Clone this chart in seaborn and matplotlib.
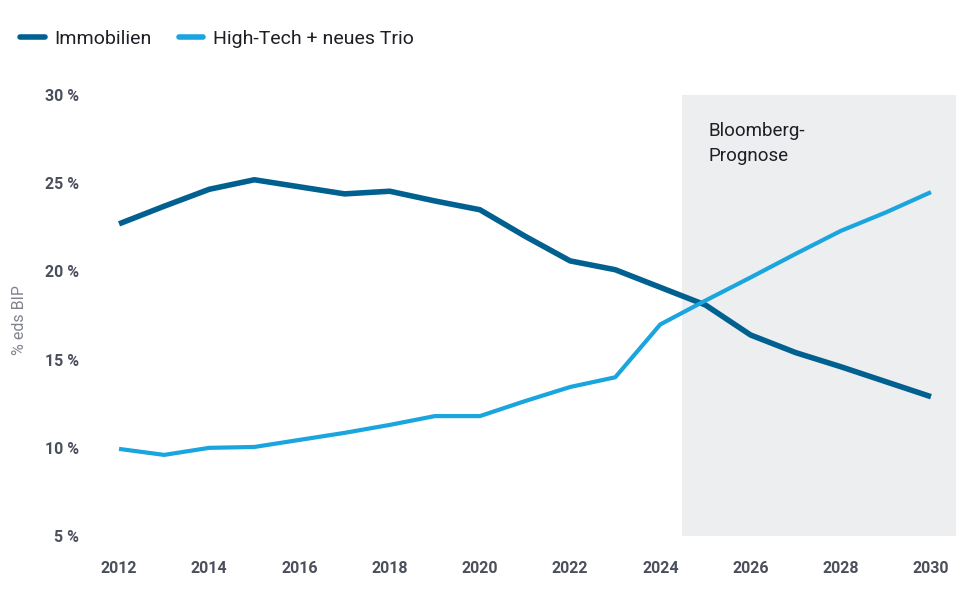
import seaborn as sns
import matplotlib.pyplot as plt
import pandas as pd

# data (% of GDP)
years = list(range(2012, 2031))
immobilien = [22.7, 23.7, 24.66, 25.2, 24.8, 24.4, 24.55, 24.0, 23.5, 22.0, 20.6,
              20.1, 19.1, 18.1, 16.4, 15.4, 14.6, 13.75, 12.9]
hightech = [9.94, 9.6, 10.0, 10.05, 10.45, 10.85, 11.3, 11.8, 11.8, 12.65, 13.45,
            14.0, 17.0, 18.35, 19.66, 21.0, 22.3, 23.35, 24.5]
series_names = ["Immobilien", "High-Tech + neues Trio"]
yticks = [5, 10, 15, 20, 25, 30]
xticks = list(range(2012, 2031, 2))
forecast_start, forecast_end = 2024.48, 2030.56

df = pd.DataFrame({
    "Jahr": years * 2,
    "Wert": immobilien + hightech,
    "Serie": [series_names[0]] * len(years) + [series_names[1]] * len(years),
})

sns.set_style("white")
plt.rcParams["font.family"] = ["Roboto", "DejaVu Sans"]

fig = plt.figure(figsize=(9.75, 6.02), dpi=100)
ax = fig.add_axes([0.1036, 0.1096, 0.879, 0.7324])

# forecast shading
ax.axvspan(forecast_start, forecast_end, color="#edeef0", zorder=0, lw=0)
ax.text(2025.07, 28.45, "Bloomberg-\nPrognose", fontsize=13.5, color="#1e1e24",
        va="top", ha="left", linespacing=1.45)

palette = {series_names[0]: "#00608f", series_names[1]: "#1aa5de"}
sns.lineplot(data=df, x="Jahr", y="Wert", hue="Serie", palette=palette,
             ax=ax, legend=False, zorder=3)
ax.lines[0].set_linewidth(4.0)
ax.lines[1].set_linewidth(3.0)
for ln in ax.lines:
    ln.set_solid_capstyle("butt")

ax.set_xlim(2011.6, 2030.6)
ax.set_ylim(5, 30)
ax.set_xticks(xticks)
ax.set_xticklabels([str(x) for x in xticks])
ax.set_yticks(yticks)
ax.set_yticklabels([f"{y} %" for y in yticks])
ax.tick_params(axis="both", length=0, labelcolor="#4b4f5c", labelsize=11.5)
ax.tick_params(axis="x", pad=18)
ax.tick_params(axis="y", pad=16)
for lbl in ax.get_xticklabels() + ax.get_yticklabels():
    lbl.set_fontweight("bold")
    lbl.set_fontstretch("condensed")
ax.set_xlabel("")
ax.set_ylabel("% eds BIP", color="#80838c", fontsize=11.5)
ax.yaxis.set_label_coords(-0.086, 0.49)
sns.despine(ax=ax, left=True, bottom=True)

handles = [plt.Line2D([], [], color=palette[n], lw=4) for n in series_names]
fig.legend(handles, series_names, loc="center left", bbox_to_anchor=(0.003, 1 - 39 / 602),
           ncol=2, frameon=False, fontsize=14, handlelength=1.25, handletextpad=0.5,
           columnspacing=1.4, labelcolor="#1e1e24")

fig.savefig("out.png", dpi=100)
plt.close(fig)
